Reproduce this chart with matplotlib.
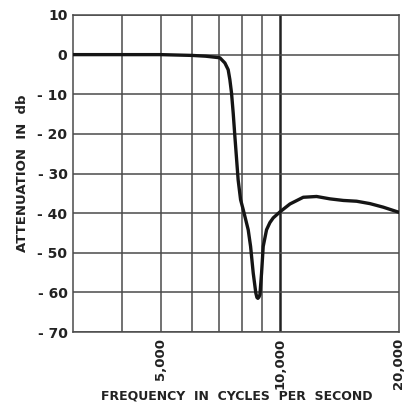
import matplotlib
matplotlib.use("Agg")
import matplotlib.pyplot as plt
from matplotlib.ticker import FixedLocator, NullFormatter, NullLocator

# frequency (c/s) and attenuation (db)
freq = [3000, 4000, 5000, 6000, 6500, 7052, 7260, 7401, 7474, 7547, 7620,
        7695, 7843, 7955, 8077, 8316, 8432, 8562, 8694, 8750, 8800, 8850,
        8902, 8989, 9075, 9253, 9434, 9619, 10000, 10600, 11455, 12380,
        13380, 14460, 15630, 16890, 18250, 20000]
atten = [0.0, 0.0, 0.0, -0.2, -0.4, -0.8, -2.1, -3.8, -6.3, -9.7, -14.7,
         -20.6, -31.6, -36.6, -39.1, -44.2, -48.4, -55.1, -60.2, -61.3,
         -61.5, -61.2, -60.6, -55.1, -48.4, -44.2, -42.4, -41.2, -39.7,
         -37.7, -36.0, -35.8, -36.4, -36.8, -37.0, -37.6, -38.5, -39.8]

grid_x = [4000, 5000, 6000, 7000, 8000, 9000]
x_ticks = [5000, 10000, 20000]
x_labels = ["5,000", "10,000", "20,000"]
y_ticks = [10, 0, -10, -20, -30, -40, -50, -60, -70]
y_labels = ["10", "0", "- 10", "- 20", "- 30", "- 40", "- 50", "- 60", "- 70"]

fig = plt.figure(figsize=(4.06, 4.08), dpi=100)
ax = fig.add_axes([73 / 406, 1 - 332 / 408, 326 / 406, 317 / 408])

ax.set_xscale("log")
ax.set_xlim(3000, 20000)
ax.set_ylim(-70, 10)

gcol = "#4a4a4a"
for f in grid_x:
    ax.axvline(f, color=gcol, lw=1.1, zorder=1)
ax.axvline(10000, color="#222222", lw=1.8, zorder=1)
for v in y_ticks:
    ax.axhline(v, color=gcol, lw=1.1, zorder=1)

ax.plot(freq, atten, color="#151515", lw=2.4, zorder=3,
        solid_capstyle="round", solid_joinstyle="round")

for s in ax.spines.values():
    s.set_color(gcol)
    s.set_linewidth(1.1)

ax.xaxis.set_major_locator(FixedLocator(x_ticks))
ax.xaxis.set_minor_locator(NullLocator())
ax.xaxis.set_minor_formatter(NullFormatter())
ax.set_xticklabels(x_labels, rotation=90, fontsize=9.5, fontweight="bold",
                   color="#222222")
ax.set_yticks(y_ticks)
ax.set_yticklabels(y_labels, fontsize=10, fontweight="bold", color="#222222")
ax.tick_params(length=0, pad=4)

ax.set_ylabel("ATTENUATION  IN  db", fontsize=9.5, fontweight="bold",
              color="#222222", labelpad=6)
fig.text(237 / 406, 1 - 396 / 408, "FREQUENCY  IN  CYCLES  PER  SECOND",
         fontsize=9, fontweight="bold", color="#222222",
         ha="center", va="center")

fig.savefig("out.png", dpi=100)
